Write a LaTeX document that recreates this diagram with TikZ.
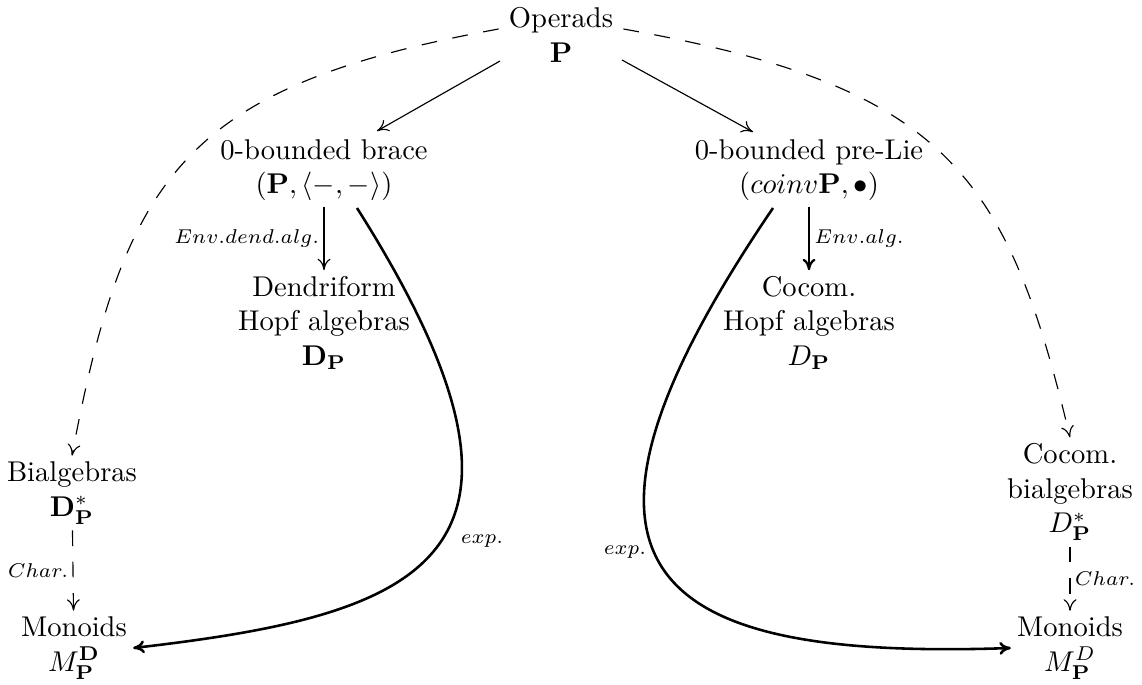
\documentclass[tikz,border=0pt]{standalone}
\usepackage{amsmath,amssymb}
\usetikzlibrary{arrows.meta}
\begin{document}
\begin{tikzpicture}[x=0.35pt,y=-0.35pt,
  every node/.style={align=center, inner sep=2pt},
  lbl/.style={font=\scriptsize, inner sep=1.5pt},
  map/.style={-{To[length=4pt,width=4.5pt]}},
  dashmap/.style={map, dash pattern=on 5.5pt off 5.5pt},
  expmap/.style={map, line width=0.9pt}]
\useasboundingbox (0,0) rectangle (1142,684);
% objects
\node (op)      at (561,35)  {Operads\\ $\mathbf{P}$};
\node (brace)   at (324,170) {0-bounded brace\\ $(\mathbf{P},\langle -,-\rangle)$};
\node (prelie)  at (809,170) {0-bounded pre-Lie\\ $(coinv\mathbf{P},\bullet)$};
\node (dend)    at (324,323) {Dendriform\\ Hopf algebras\\ $\mathbf{D}_{\mathbf{P}}$};
\node (hopf)    at (809,323) {Cocom.\\ Hopf algebras\\ $D_{\mathbf{P}}$};
\node (bialg)   at (72,493)  {Bialgebras\\ $\mathbf{D}^{*}_{\mathbf{P}}$};
\node (cobialg) at (1070,492) {Cocom.\\ bialgebras\\ $D^{*}_{\mathbf{P}}$};
\node (monL)    at (74,648)  {Monoids\\ $M^{\mathbf{D}}_{\mathbf{P}}$};
\node (monR)    at (1070,648) {Monoids\\ $M^{D}_{\mathbf{P}}$};
% arrows
\draw[map] ([shift={(-61,26)}]op.center) -- ([shift={(53,-39)}]brace.center);
\draw[map] ([shift={(61,25)}]op.center) -- ([shift={(-56,-38)}]prelie.center);
\draw[map] (brace) -- node[lbl,left]{$Env.dend.alg.$} (dend);
\draw[map, line width=0.8pt] (prelie) -- node[lbl,right]{$Env.alg.$} (hopf);
\draw[dashmap] ([shift={(-4,-6)}]op.west) .. controls (187,86) and (125,173) .. (bialg.north);
\draw[dashmap] ([shift={(4,-6)}]op.east) .. controls (945,86) and (1007,173) .. (cobialg.north);
\draw[dashmap] (bialg) -- node[lbl,left]{$Char.$} (monL);
\draw[dashmap] (cobialg) -- node[lbl,right]{$Char.$} (monR);
\draw[expmap] ([shift={(33,38)}]brace.center) .. controls (580,560) and (420,615) .. (monL.east);
\draw[expmap] ([shift={(-36,38)}]prelie.center) .. controls (520,580) and (660,660) .. (monR.west);
\node[lbl] (expL) at (482,541) {$exp.$};
\node[lbl] (expR) at (625,552) {$exp.$};
\end{tikzpicture}
\end{document}
